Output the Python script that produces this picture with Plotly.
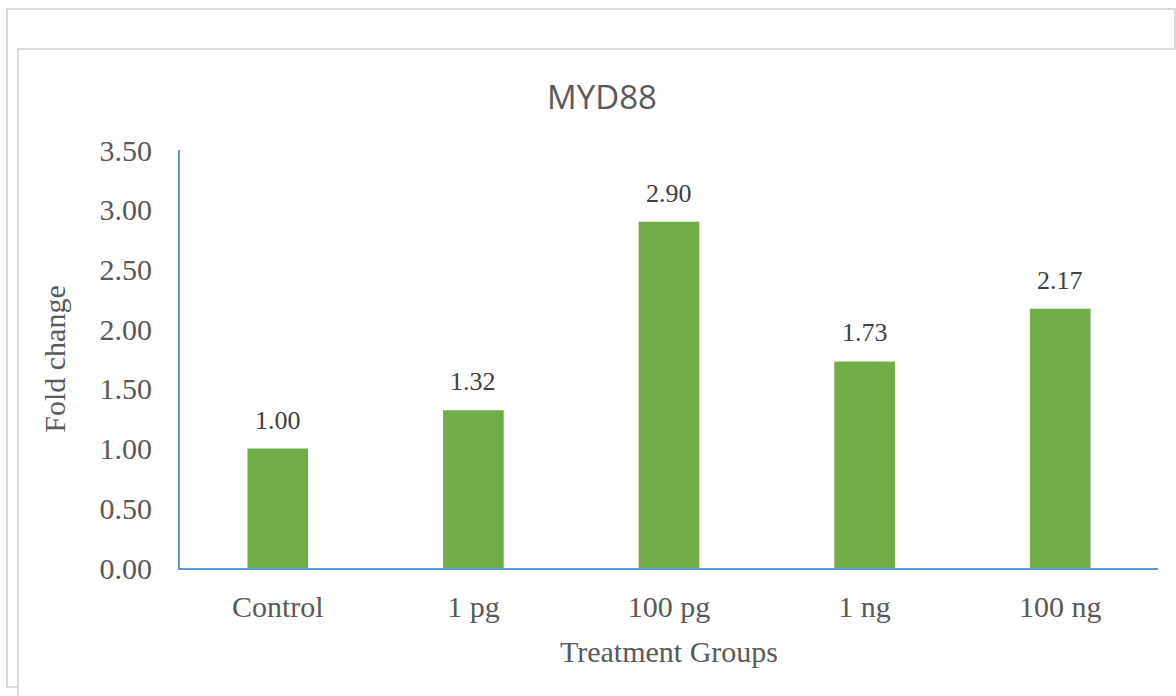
import plotly.graph_objects as go

categories = ["Control", "1 pg", "100 pg", "1 ng", "100 ng"]
fold_change = [1.00, 1.32, 2.90, 1.73, 2.17]
y_ticks = [0, 0.5, 1.0, 1.5, 2.0, 2.5, 3.0, 3.5]

W, H = 1176, 696
L, R, T, B = 180, 18, 150, 128
pw, ph = W - L - R, H - T - B

def px(x):
    return (x - L) / pw

def py(y):
    return (H - B - y) / ph

fig = go.Figure()
fig.add_trace(go.Bar(
    x=categories, y=fold_change,
    marker=dict(color="#70AD47", line=dict(width=0)),
    hoverinfo="x+y",
))

for c, v in zip(categories, fold_change):
    fig.add_annotation(
        x=c, y=v, text=f"{v:.2f}", showarrow=False,
        yanchor="bottom", yshift=12,
        font=dict(family="Liberation Serif, Times New Roman, serif", size=26, color="#404040"),
    )

line_col = "#D9D9D9"
fig.add_shape(type="rect", xref="paper", yref="paper",
              x0=px(7), x1=px(1175), y0=py(687), y1=py(9),
              line=dict(color=line_col, width=2), fillcolor="white", layer="below")
fig.add_shape(type="rect", xref="paper", yref="paper",
              x0=px(18), x1=px(1200), y0=py(720), y1=py(49),
              line=dict(color=line_col, width=2), fillcolor="white", layer="below")

fig.update_layout(
    width=W, height=H,
    margin=dict(l=L, r=R, t=T, b=B, pad=0),
    paper_bgcolor="white", plot_bgcolor="rgba(0,0,0,0)",
    bargap=0.69,
    showlegend=False,
    title=dict(text="MYD88", x=px(602), xref="paper", y=1 - 97 / H, yanchor="middle",
               xanchor="center",
               font=dict(family="Open Sans, sans-serif", size=33, color="#595959")),
    font=dict(family="Liberation Serif, Times New Roman, serif", color="#595959"),
)

fig.update_xaxes(
    showline=True, linecolor="#5B9BD5", linewidth=2,
    showgrid=False, ticks="", zeroline=False,
    tickfont=dict(size=30, color="#595959"),
    ticklabelstandoff=11,
    title=dict(text="Treatment Groups", font=dict(size=30, color="#595959"), standoff=19),
    fixedrange=True,
)
fig.update_yaxes(
    range=[0, 3.5], tickvals=y_ticks, tickformat=".2f",
    showline=True, linecolor="#5B9BD5", linewidth=2,
    showgrid=False, ticks="", zeroline=False,
    tickfont=dict(size=30, color="#595959"),
    ticklabelstandoff=20,
    title=dict(text="Fold change", font=dict(size=30, color="#595959"), standoff=25),
    fixedrange=True,
)

fig.write_html(
    "out.html",
    config={"displayModeBar": False},
    post_script="document.body.style.margin='0';document.body.style.overflow='hidden';",
)
